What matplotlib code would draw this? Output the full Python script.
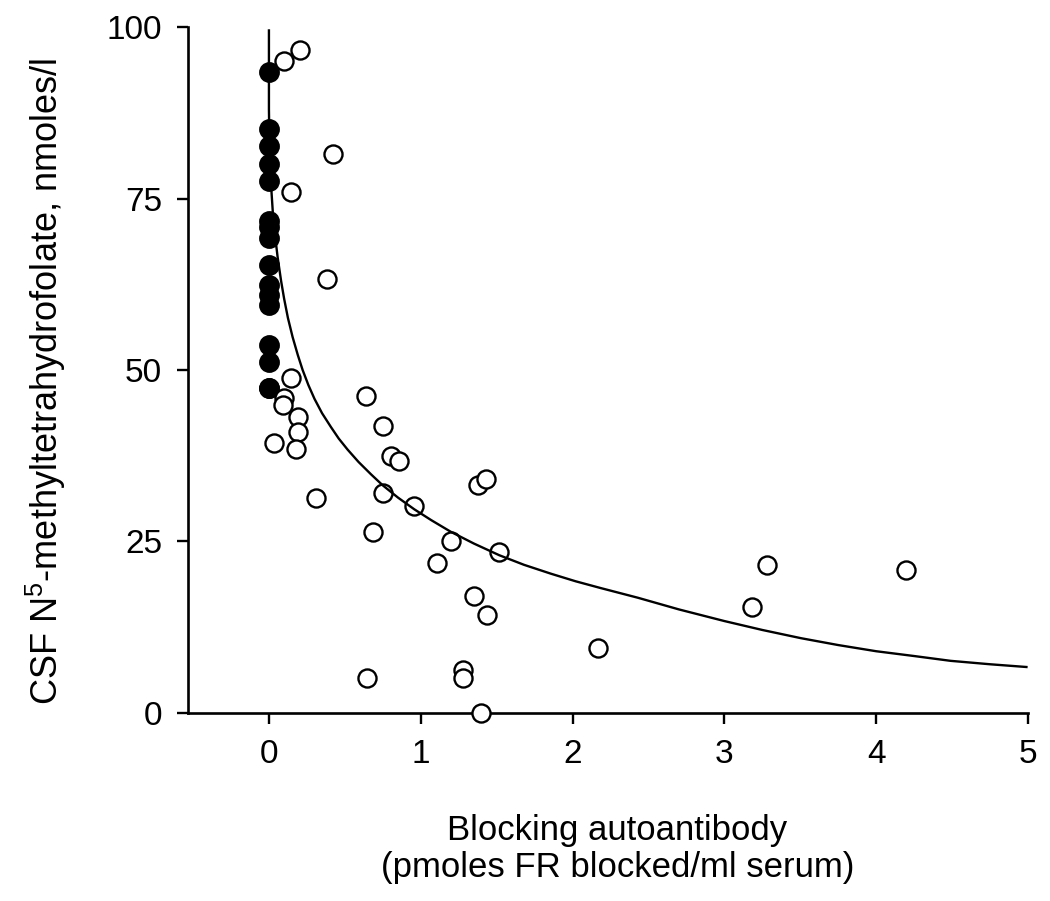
import matplotlib
matplotlib.use("Agg")
import matplotlib.pyplot as plt

plt.rcParams['font.family'] = ['Liberation Sans', 'DejaVu Sans']
plt.rcParams['mathtext.default'] = 'regular'

# patients without blocking autoantibody (filled)
neg_x = [0.0] * 16
neg_y = [93.5, 85.2, 82.6, 80.0, 77.5, 71.7, 70.8, 69.2,
         65.3, 62.4, 61.0, 59.5, 53.6, 51.2, 47.4, 47.4]

# patients with blocking autoantibody (open)
pos_x = [0.097, 0.204, 0.424, 0.145, 0.38, 0.145, 0.10, 0.09, 0.189, 0.189,
         0.035, 0.178, 0.639, 0.31, 0.749, 0.804, 0.859, 1.375, 1.43, 0.749,
         0.957, 0.683, 1.199, 1.517, 1.107, 1.352, 1.436, 0.643, 1.276, 1.276,
         1.397, 2.165, 3.278, 4.196, 3.182]
pos_y = [95.1, 96.6, 81.5, 75.9, 63.2, 48.9, 45.9, 44.9, 43.2, 41.0,
         39.4, 38.5, 46.2, 31.3, 41.9, 37.4, 36.7, 33.3, 34.1, 32.1,
         30.1, 26.4, 25.1, 23.4, 21.8, 17.0, 14.3, 5.1, 6.3, 5.1,
         0.0, 9.4, 21.5, 20.9, 15.4]

# fitted curve
fit_x = [0.0, 0.0, 0.004, 0.013, 0.03, 0.057, 0.08, 0.10, 0.125, 0.156,
         0.19, 0.222, 0.26, 0.30, 0.35, 0.408, 0.46, 0.518, 0.59, 0.672,
         0.749, 0.85, 0.957, 1.07, 1.199, 1.35, 1.517, 1.68, 1.858, 2.02,
         2.187, 2.43, 2.7, 3.0, 3.25, 3.505, 3.75, 4.0, 4.25, 4.49, 4.75, 4.99]
fit_y = [99.5, 88.0, 82.0, 77.3, 71.5, 66.5, 63.0, 60.4, 57.6, 54.8,
         52.2, 50.0, 47.8, 45.8, 43.7, 41.7, 40.0, 38.4, 36.6, 34.8,
         33.2, 31.4, 29.7, 28.1, 26.4, 24.7, 23.0, 21.6, 20.3, 19.2,
         18.2, 16.8, 15.1, 13.4, 12.1, 10.9, 9.9, 9.0, 8.3, 7.6, 7.1, 6.7]

fig = plt.figure(figsize=(10.5, 9.01), dpi=100)
ax = fig.add_axes([0.1795, 0.2087, 0.7995, 0.7613])

ax.plot(neg_x, neg_y, 'o', ms=13.5, mfc='black', mec='black', mew=1.5,
        clip_on=False, zorder=3)
ax.plot(pos_x, pos_y, 'o', ms=13, mfc='white', mec='black', mew=1.7,
        clip_on=False, zorder=3)
ax.plot(fit_x, fit_y, '-', color='black', lw=1.7, zorder=4)

ax.set_xlim(-0.53, 5.0)
ax.set_ylim(0, 100)
ax.set_xticks([0, 1, 2, 3, 4, 5])
ax.set_yticks([0, 25, 50, 75, 100])

for s in ['top', 'right']:
    ax.spines[s].set_visible(False)
for s in ['left', 'bottom']:
    ax.spines[s].set_linewidth(1.9)

ax.tick_params(axis='both', direction='out', length=8, width=1.7,
               labelsize=24, pad=11)

fig.text(0.044, 0.577, 'CSF N$^{5}$-methyltetrahydrofolate, nmoles/l',
         rotation=90, ha='center', va='center', fontsize=26)
fig.text(0.588, 0.097, 'Blocking autoantibody\n(pmoles FR blocked/ml serum)',
         ha='center', va='top', fontsize=25, linespacing=1.15)

fig.savefig('out.png', dpi=100)
